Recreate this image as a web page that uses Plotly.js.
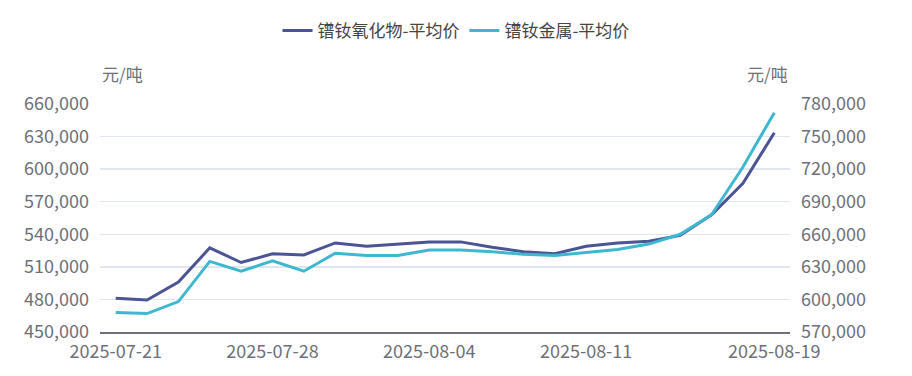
<!DOCTYPE html>
<html>
<head>
<meta charset="utf-8">
<script src="https://cdn.plot.ly/plotly-3.0.1.min.js"></script>
<style>html,body{margin:0;padding:0;background:#fff;}#chart{width:912px;height:376px;}</style>
</head>
<body>
<div id="chart"></div>
<script>
const dates = ['2025-07-21','2025-07-22','2025-07-23','2025-07-24','2025-07-25',
  '2025-07-28','2025-07-29','2025-07-30','2025-07-31','2025-08-01',
  '2025-08-04','2025-08-05','2025-08-06','2025-08-07','2025-08-08',
  '2025-08-11','2025-08-12','2025-08-13','2025-08-14','2025-08-15',
  '2025-08-18','2025-08-19'];
const oxidePrice = [481000,479500,496000,527500,514000,522000,521000,532000,529000,531000,
  533000,533000,528000,524000,522000,529000,532000,533500,539000,558000,587000,633500];
const metalPrice = [588000,587000,598000,635000,626000,635500,626000,642500,640500,640500,
  645500,645500,644000,641500,640500,643000,646000,651000,660000,678000,722000,772000];
const tickDates = ['2025-07-21','2025-07-28','2025-08-04','2025-08-11','2025-08-19'];
const seriesNames = ['镨钕氧化物-平均价','镨钕金属-平均价'];
const unitLabel = '元/吨';

const FONT = '"Noto Sans CJK SC", "Noto Sans", sans-serif';
const GREY = '#6e7079';

const traces = [
  {x: dates, y: oxidePrice, name: seriesNames[0], type: 'scatter', mode: 'lines',
   line: {color: '#4b5495', width: 3}, yaxis: 'y'},
  {x: dates, y: metalPrice, name: seriesNames[1], type: 'scatter', mode: 'lines',
   line: {color: '#3fb7d0', width: 3}, yaxis: 'y2'}
];

const layout = {
  width: 912, height: 376,
  margin: {l: 100, r: 122, t: 104, b: 44},
  paper_bgcolor: '#fff', plot_bgcolor: '#fff',
  font: {family: FONT, size: 17, color: GREY},
  showlegend: true,
  legend: {orientation: 'h', x: 0.5, xanchor: 'center', xref: 'container', y: 1 - 31/376, yref: 'container', yanchor: 'middle',
    font: {family: FONT, size: 17, color: '#444'}, itemwidth: 30},
  xaxis: {type: 'category', range: [-0.5, dates.length - 0.5], tickmode: 'array', tickvals: tickDates, ticktext: tickDates,
    showgrid: false, showline: true, linecolor: GREY, linewidth: 1.5, ticks: '', zeroline: false,
    tickfont: {family: FONT, size: 18, color: GREY}, ticklabelstandoff: 3},
  yaxis: {range: [450000, 660000], dtick: 30000, tick0: 450000, tickformat: ',d', showgrid: true, gridcolor: '#e0e6f1', gridwidth: 1.5,
    zeroline: false, showline: false, ticks: '', tickfont: {family: FONT, size: 18, color: GREY}, ticklabelstandoff: 10},
  yaxis2: {range: [570000, 780000], dtick: 30000, tick0: 570000, tickformat: ',d', overlaying: 'y', side: 'right',
    showgrid: false, zeroline: false, showline: false, ticks: '', tickfont: {family: FONT, size: 18, color: GREY}, ticklabelstandoff: 10},
  annotations: [
    {text: unitLabel, xref: 'paper', yref: 'paper', x: 0, y: 1, xanchor: 'left', yanchor: 'middle', yshift: 31,
     showarrow: false, font: {family: FONT, size: 17, color: GREY}},
    {text: unitLabel, xref: 'paper', yref: 'paper', x: 1, y: 1, xanchor: 'right', yanchor: 'middle', yshift: 31,
     showarrow: false, font: {family: FONT, size: 17, color: GREY}}
  ]
};

Plotly.newPlot('chart', traces, layout, {displayModeBar: false, staticPlot: true});
</script>
</body>
</html>
